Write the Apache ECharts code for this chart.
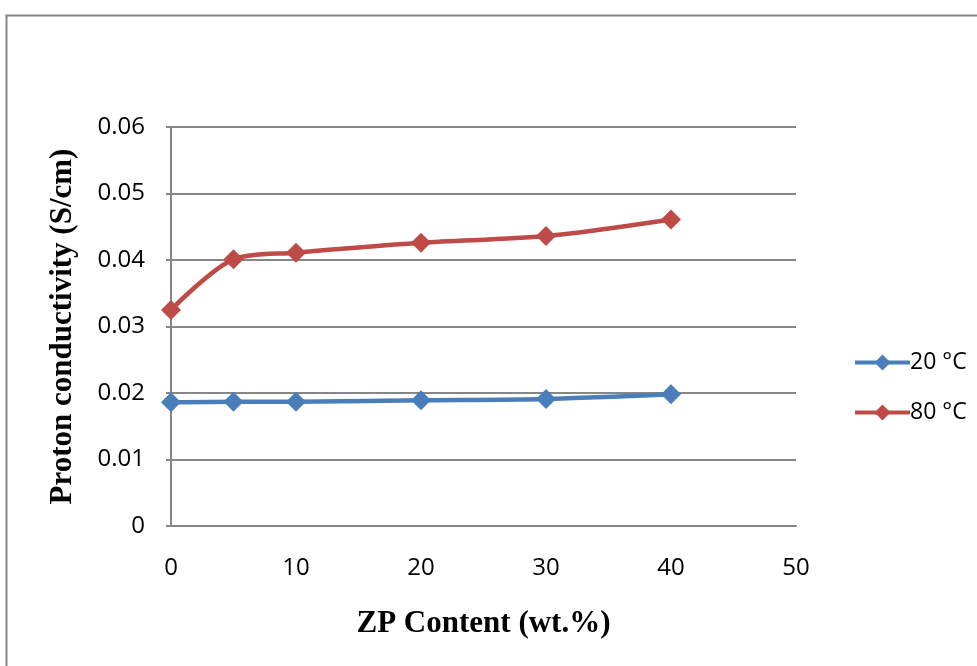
<!DOCTYPE html>
<html>
<head>
<meta charset="utf-8">
<script src="https://cdn.jsdelivr.net/npm/echarts@6/dist/echarts.min.js"></script>
<style>html,body{margin:0;padding:0;background:#fff;}#c{width:977px;height:666px;}</style>
</head>
<body>
<div id="c"></div>
<script>
const xValues = [0, 5, 10, 20, 30, 40];
const series20 = [0.0186, 0.0187, 0.0187, 0.0189, 0.0191, 0.0198];
const series80 = [0.0325, 0.0401, 0.0411, 0.0426, 0.0436, 0.0461];
const seriesNames = ['20 °C', '80 °C'];
const xTitle = 'ZP Content (wt.%)';
const yTitle = 'Proton conductivity (S/cm)';

const chart = echarts.init(document.getElementById('c'));
const pair = (arr) => xValues.map((x, i) => [x, arr[i]]);
chart.setOption({
  animation: false,
  backgroundColor: '#fff',
  graphic: [{
    type: 'rect', left: 4, top: 13, shape: {width: 990, height: 700},
    style: {fill: 'none', stroke: '#868686', lineWidth: 2}
  }],
  grid: {left: 171, right: 181, top: 127, bottom: 140},
  legend: {
    orient: 'vertical', left: 848, top: 346, itemGap: 27,
    itemWidth: 55, itemHeight: 20,
    lineStyle: {width: 4},
    textStyle: {fontFamily: 'Open Sans', fontSize: 23, color: '#000', padding: [0, 0, 0, -5]},
    data: seriesNames
  },
  xAxis: {
    type: 'value', min: 0, max: 50, interval: 10,
    name: xTitle, nameLocation: 'middle', nameGap: 82,
    nameTextStyle: {fontFamily: 'Liberation Serif', fontWeight: 'bold', fontSize: 31, color: '#000'},
    axisLine: {lineStyle: {color: '#868686', width: 2}},
    axisTick: {show: false},
    axisLabel: {fontFamily: 'Open Sans', fontSize: 24, color: '#000', margin: 30},
    splitLine: {show: false}
  },
  yAxis: {
    type: 'value', min: 0, max: 0.06, interval: 0.01,
    name: yTitle, nameLocation: 'middle', nameGap: 93, nameRotate: 90,
    nameTextStyle: {fontFamily: 'Liberation Serif', fontWeight: 'bold', fontSize: 31, color: '#000'},
    axisLine: {show: true, lineStyle: {color: '#868686', width: 2}},
    axisTick: {show: true, length: 5, lineStyle: {color: '#868686', width: 2}},
    axisLabel: {fontFamily: 'Open Sans', fontSize: 24, color: '#000', margin: 26},
    splitLine: {lineStyle: {color: '#868686', width: 2}}
  },
  series: [
    {
      name: seriesNames[0], type: 'line', data: pair(series20), smooth: 0.3,
      symbol: 'diamond', symbolSize: 20,
      lineStyle: {color: '#4A7EBB', width: 4.5}, itemStyle: {color: '#4A7EBB'}
    },
    {
      name: seriesNames[1], type: 'line', data: pair(series80), smooth: 0.3,
      symbol: 'diamond', symbolSize: 20,
      lineStyle: {color: '#BE4B48', width: 4.5}, itemStyle: {color: '#BE4B48'}
    }
  ]
});
</script>
</body>
</html>
